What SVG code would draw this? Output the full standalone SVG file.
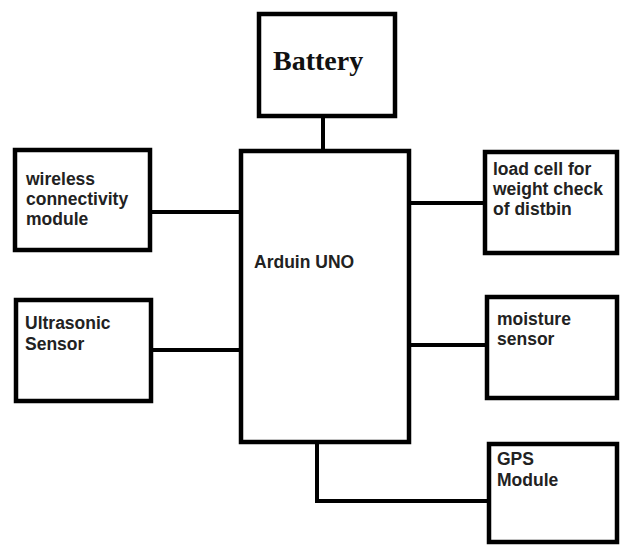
<svg xmlns="http://www.w3.org/2000/svg" width="620" height="545" viewBox="0 0 620 545">
<style>
.box{fill:#fff;stroke:#000;stroke-width:4.5}
.lbl{font-family:"Liberation Sans",Arial,sans-serif;font-weight:bold;font-size:17.5px;fill:#222}
.bat{font-family:"Liberation Serif","Times New Roman",serif;font-weight:bold;font-size:28px;fill:#111}
.conn{fill:none;stroke:#000;stroke-width:4}
</style>
<rect width="620" height="545" fill="#fff"/>
<g id="connectors">
<line class="conn" x1="323" y1="116" x2="323" y2="151"/>
<line class="conn" x1="150" y1="212" x2="241" y2="212"/>
<line class="conn" x1="151" y1="350" x2="241" y2="350"/>
<line class="conn" x1="409" y1="203" x2="485" y2="203"/>
<line class="conn" x1="409" y1="345" x2="487" y2="345"/>
<polyline class="conn" points="317,442 317,501 489,501"/>
</g>
<g id="battery">
<rect class="box" x="259" y="14" width="136" height="102"/>
<text class="bat" x="273" y="70">Battery</text>
</g>
<g id="arduino">
<rect class="box" x="241" y="151" width="168" height="291"/>
<text class="lbl" x="254" y="268">Arduin UNO</text>
</g>
<g id="wireless">
<rect class="box" x="15" y="150" width="135" height="100"/>
<text class="lbl" x="26" y="185">wireless</text>
<text class="lbl" x="26" y="205">connectivity</text>
<text class="lbl" x="26" y="225">module</text>
</g>
<g id="ultrasonic">
<rect class="box" x="16" y="300" width="135" height="101"/>
<text class="lbl" x="25" y="329">Ultrasonic</text>
<text class="lbl" x="25" y="350">Sensor</text>
</g>
<g id="loadcell">
<rect class="box" x="485" y="152" width="132" height="101"/>
<text class="lbl" x="493" y="175">load cell for</text>
<text class="lbl" x="493" y="195">weight check</text>
<text class="lbl" x="493" y="215">of distbin</text>
</g>
<g id="moisture">
<rect class="box" x="487" y="297" width="130" height="101"/>
<text class="lbl" x="497" y="325">moisture</text>
<text class="lbl" x="497" y="345">sensor</text>
</g>
<g id="gps">
<rect class="box" x="489" y="444" width="128" height="98"/>
<text class="lbl" x="497" y="465">GPS</text>
<text class="lbl" x="497" y="486">Module</text>
</g>
</svg>
